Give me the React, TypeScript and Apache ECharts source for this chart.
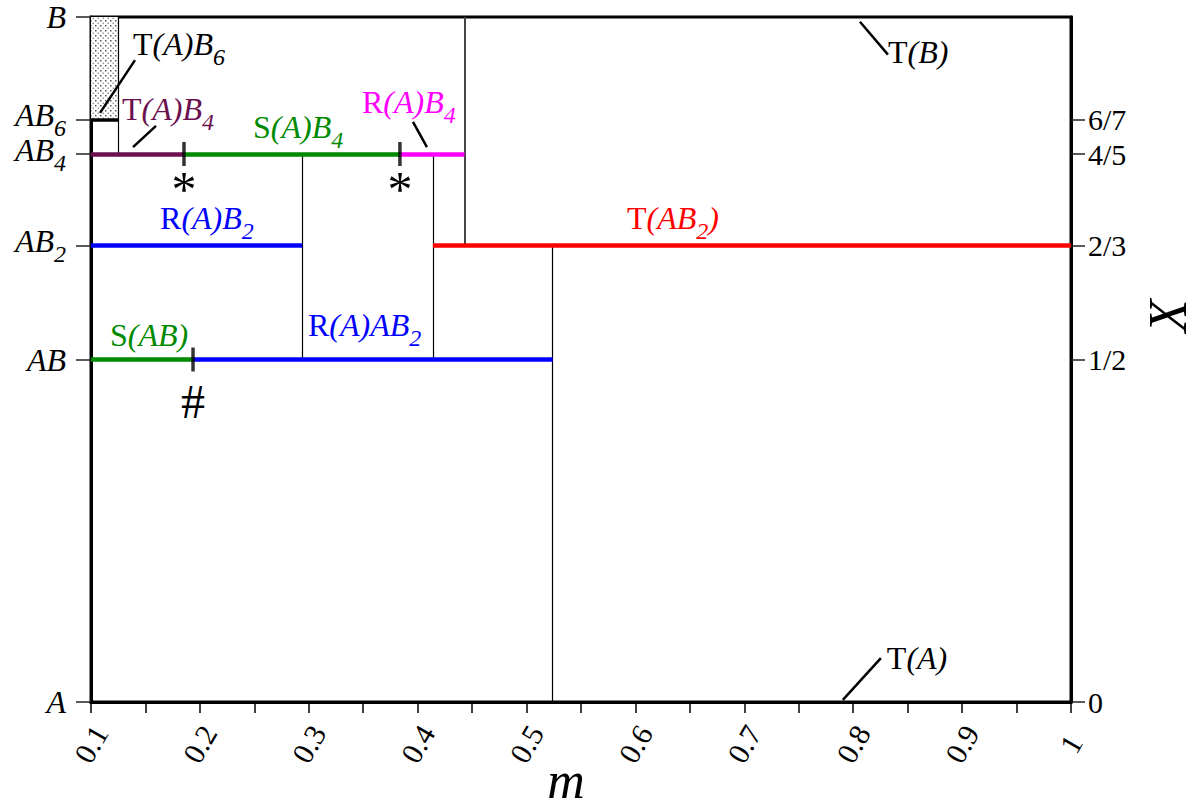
import React, { useEffect, useRef } from 'react';
import * as echarts from 'echarts';

const FONT = "'Liberation Serif', 'Times New Roman', serif";

// ---- axis levels (composition X) ----
const leftLevelValues = [0, 0.5, 2 / 3, 0.8, 0.85, 1];
const leftLevelLabels = ['A', 'AB', 'AB_2', 'AB_4', 'AB_6', 'B'];
const rightLevelValues = [0, 0.5, 2 / 3, 0.8, 0.85];
const rightLevelLabels = ['0', '1/2', '2/3', '4/5', '6/7'];

// ---- horizontal phase segments ----
const phaseNames = ['T(A)B_4', 'S(A)B_4', 'R(A)B_4', 'R(A)B_2', 'T(AB_2)', 'S(AB)', 'R(A)AB_2', 'AB_6'];
const phaseStart = [0.1, 0.1854, 0.3837, 0.1, 0.414, 0.1, 0.1937, 0.1];
const phaseEnd = [0.1854, 0.3837, 0.443, 0.294, 1, 0.1937, 0.524, 0.125];
const phaseLevel = [0.8, 0.8, 0.8, 2 / 3, 2 / 3, 0.5, 0.5, 0.85];

// ---- vertical boundaries ----
const boundaryM = [0.125, 0.294, 0.414, 0.443, 0.524];
const boundaryFrom = [0.8, 0.5, 0.5, 2 / 3, 0];
const boundaryTo = [1, 0.8, 0.8, 1, 2 / 3];

// ---- markers ----
const markerM = [0.1854, 0.3837, 0.1937];
const markerLevel = [0.8, 0.8, 0.5];
const markerSymbols = ['*', '*', '#'];

// ---- shaded region (m0, X0, m1, X1) ----
const shadedRegion = [[0.1, 0.85, 0.125, 1]];

// ---- text labels ----
const labelNames = ['T(A)B_6', 'T(A)B_4', 'S(A)B_4', 'R(A)B_4', 'R(A)B_2', 'T(AB_2)', 'S(AB)', 'R(A)AB_2', 'T(B)', 'T(A)'];
const labelM = [0.1386, 0.1285, 0.2488, 0.3489, 0.1634, 0.5922, 0.1174, 0.2993, 0.8319, 0.8309];
const labelLevel = [0.9606, 0.8657, 0.839, 0.876, 0.7066, 0.7066, 0.5358, 0.55, 0.949, 0.0642];

// ---- leader lines [m1, X1, m2, X2] ----
const leaderLines = [
  [0.1083, 0.86, 0.1404, 0.937],
  [0.1386, 0.81, 0.1597, 0.841],
  [0.3957, 0.847, 0.4085, 0.81],
  [0.8062, 0.993, 0.8319, 0.945],
  [0.7905, 0.003, 0.8254, 0.064],
];

// ---- styles ----
const PURPLE = '#6B0F4F';
const GREEN = '#008A00';
const MAGENTA = '#FF00FF';
const BLUE = '#0000FF';
const RED = '#FF0000';

const colorOf: Record<string, string> = {
  'T(A)B_4': PURPLE,
  'S(A)B_4': GREEN,
  'R(A)B_4': MAGENTA,
  'R(A)B_2': BLUE,
  'T(AB_2)': RED,
  'S(AB)': GREEN,
  'R(A)AB_2': BLUE,
  AB_6: '#000',
  'T(A)B_6': '#000',
  'T(B)': '#000',
  'T(A)': '#000',
};

const richOf: Record<string, string> = {
  A: '{j|A}',
  AB: '{j|AB}',
  AB_2: '{i|AB}{s|2}',
  AB_4: '{i|AB}{s|4}',
  AB_6: '{i|AB}{s|6}',
  B: '{j|B}',
  'T(A)B_6': '{r|T}{i|(A)B}{s|6}',
  'T(A)B_4': '{r|T}{i|(A)B}{s|4}',
  'S(A)B_4': '{r|S}{i|(A)B}{s|4}',
  'R(A)B_4': '{r|R}{i|(A)B}{s|4}',
  'R(A)B_2': '{r|R}{i|(A)B}{s|2}',
  'T(AB_2)': '{r|T}{i|(AB}{s|2}{i|)}',
  'S(AB)': '{r|S}{i|(AB)}',
  'R(A)AB_2': '{r|R}{i|(A)AB}{s|2}',
  'T(B)': '{r|T}{i|(B)}',
  'T(A)': '{r|T}{i|(A)}',
};

// main glyphs sit at the top of a 41px line, subscripts at its bottom
const LINE_H = 41;
const rich = (size: number, sub: number, color: string) => ({
  r: { fontFamily: FONT, fontSize: size, lineHeight: LINE_H, verticalAlign: 'top', color, opacity: 1 },
  i: { fontFamily: FONT, fontStyle: 'italic', fontSize: size, lineHeight: LINE_H, verticalAlign: 'top', color, opacity: 1 },
  j: { fontFamily: FONT, fontStyle: 'italic', fontSize: size, lineHeight: size, color, opacity: 1 },
  s: { fontFamily: FONT, fontStyle: 'italic', fontSize: sub, lineHeight: sub, verticalAlign: 'bottom', color, opacity: 1 },
});

function makePattern() {
  const c = document.createElement('canvas');
  c.width = 5;
  c.height = 5;
  const ctx = c.getContext('2d')!;
  ctx.fillStyle = '#ffffff';
  ctx.fillRect(0, 0, 5, 5);
  ctx.fillStyle = '#555555';
  ctx.fillRect(0, 0, 1.5, 1.5);
  ctx.fillStyle = '#999999';
  ctx.fillRect(2.5, 2.5, 1.5, 1.5);
  return { image: c, repeat: 'repeat' };
}

const findIdx = (arr: number[], v: number) => arr.findIndex((a) => Math.abs(a - v) < 1e-6);

export default function App() {
  const ref = useRef<HTMLDivElement>(null);
  useEffect(() => {
    document.body.style.margin = '0';
    const chart = echarts.init(ref.current!, undefined, { renderer: 'svg' });
    const pattern = makePattern();

    const option: any = {
      animation: false,
      backgroundColor: '#fff',
      grid: {
        left: 91,
        right: 127,
        top: 17,
        bottom: 110,
        outerBoundsMode: 'none',
        containLabel: false,
        show: true,
        borderColor: '#000',
        borderWidth: 3,
        backgroundColor: 'transparent',
      },
      xAxis: {
        type: 'value',
        min: 0.1,
        max: 1,
        interval: 0.1,
        name: 'm',
        nameLocation: 'middle',
        nameGap: 52,
        nameMoveOverlap: false,
        nameTextStyle: {
          fontFamily: FONT,
          fontStyle: 'italic',
          fontSize: 52,
          lineHeight: 52,
          color: '#000',
          padding: [0, 30, 0, 0],
        },
        axisLine: { show: true, lineStyle: { color: '#000', width: 3 } },
        axisTick: { show: true, length: 11, lineStyle: { color: '#000', width: 1.5 } },
        minorTick: { show: true, splitNumber: 2, length: 11, lineStyle: { color: '#000', width: 1.5 } },
        splitLine: { show: false },
        axisLabel: {
          rotate: 60,
          align: 'center',
          verticalAlign: 'middle',
          margin: 42,
          fontFamily: FONT,
          fontSize: 30,
          color: '#000',
          formatter: (v: number) => String(Number(v.toFixed(2))),
        },
      },
      yAxis: [
        {
          type: 'value',
          min: 0,
          max: 1,
          position: 'left',
          axisLine: { show: true, lineStyle: { color: '#000', width: 3 } },
          axisTick: { show: true, length: 15, customValues: leftLevelValues, lineStyle: { color: '#222', width: 1.5 } },
          splitLine: { show: false },
          axisLabel: {
            customValues: leftLevelValues,
            margin: 25,
            color: '#000',
            formatter: (v: number) => {
              const k = findIdx(leftLevelValues, v);
              return k >= 0 ? richOf[leftLevelLabels[k]] : '';
            },
            rich: rich(32, 24, '#000'),
          },
        },
        {
          type: 'value',
          min: 0,
          max: 1,
          position: 'right',
          axisLine: { show: true, lineStyle: { color: '#000', width: 3 } },
          axisTick: { show: true, length: 14, customValues: rightLevelValues, lineStyle: { color: '#222', width: 1.5 } },
          splitLine: { show: false },
          axisLabel: {
            customValues: rightLevelValues,
            margin: 17,
            color: '#000',
            fontFamily: FONT,
            fontSize: 30,
            formatter: (v: number) => {
              const k = findIdx(rightLevelValues, v);
              return k >= 0 ? rightLevelLabels[k] : '';
            },
          },
        },
      ],
      graphic: [
        {
          type: 'text',
          x: 1168,
          y: 316,
          rotation: Math.PI / 2,
          style: {
            text: 'X',
            font: `italic 54px ${FONT}`,
            fill: '#000',
            align: 'center',
            verticalAlign: 'middle',
          },
        },
      ],
      series: [
        {
          type: 'custom',
          silent: true,
          z: 1,
          encode: { x: [0, 2], y: [1, 3] },
          data: shadedRegion,
          renderItem: (_p: any, api: any) => {
            const a = api.coord([api.value(0), api.value(3)]);
            const b = api.coord([api.value(2), api.value(1)]);
            return {
              type: 'rect',
              shape: { x: a[0], y: a[1], width: b[0] - a[0], height: b[1] - a[1] },
              style: { fill: pattern, stroke: null },
            };
          },
        },
        {
          type: 'lines',
          coordinateSystem: 'cartesian2d',
          silent: true,
          z: 2,
          data: boundaryM.map((m, i) => ({
            coords: [
              [m, boundaryFrom[i]],
              [m, boundaryTo[i]],
            ],
            lineStyle: { color: i === 3 ? '#444' : '#000', width: i === 3 ? 2 : 1.2 },
          })),
          lineStyle: { opacity: 1, curveness: 0 },
        },
        {
          type: 'lines',
          coordinateSystem: 'cartesian2d',
          silent: true,
          z: 3,
          data: phaseNames.map((n, i) => ({
            coords: [
              [phaseStart[i], phaseLevel[i]],
              [phaseEnd[i], phaseLevel[i]],
            ],
            lineStyle: { color: colorOf[n], width: n === 'AB_6' ? 3.5 : 4.5 },
          })),
          lineStyle: { opacity: 1, curveness: 0 },
        },
        {
          type: 'lines',
          coordinateSystem: 'cartesian2d',
          silent: true,
          z: 3,
          data: leaderLines.map((l) => ({
            coords: [
              [l[0], l[1]],
              [l[2], l[3]],
            ],
          })),
          lineStyle: { color: '#000', width: 2.5, opacity: 1, curveness: 0 },
        },
        {
          type: 'scatter',
          silent: true,
          z: 5,
          symbol: 'rect',
          symbolSize: [3.5, 24],
          itemStyle: { color: '#000' },
          data: markerM.map((m, i) => ({
            value: [m, markerLevel[i]],
            label:
              markerSymbols[i] === '#'
                ? { formatter: '#', fontSize: 48, lineHeight: 40, distance: 10 }
                : { formatter: '*', fontSize: 50, lineHeight: 20, distance: 13 },
          })),
          label: { show: true, position: 'bottom', fontFamily: FONT, color: '#000', opacity: 1 },
        },
        {
          type: 'scatter',
          silent: true,
          z: 6,
          symbolSize: 0,
          itemStyle: { color: 'rgba(0,0,0,0)' },
          data: labelNames.map((n, i) => ({
            value: [labelM[i], labelLevel[i]],
            label: { formatter: richOf[n], color: colorOf[n], rich: rich(32, 24, colorOf[n]) },
          })),
          label: { show: true, position: 'right', distance: 0, offset: [0, 4.5], opacity: 1 },
        },
      ],
    };
    chart.setOption(option);
    return () => chart.dispose();
  }, []);
  return <div ref={ref} style={{ width: 1198, height: 812 }} />;
}
